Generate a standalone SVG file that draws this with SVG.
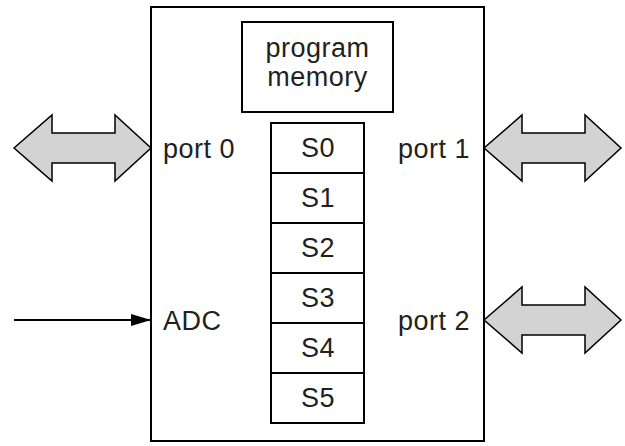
<svg xmlns="http://www.w3.org/2000/svg" width="625" height="446" viewBox="0 0 625 446">
<defs>
<style>
.box{fill:#fff;stroke:#000;stroke-width:2}
.t{font-family:"Liberation Sans",Arial,sans-serif;font-size:27px;fill:#231f20;letter-spacing:0.5px}
.c{text-anchor:middle}
.dbl{fill:#d3d3d3;stroke:#000;stroke-width:1.5;stroke-linejoin:miter}
.ln{stroke:#000;stroke-width:2;fill:none}
</style>
<marker id="ah" markerWidth="20" markerHeight="12" refX="20" refY="6" orient="auto" markerUnits="userSpaceOnUse">
<path d="M0,0 L20,6 L0,12 Z" fill="#000"/>
</marker>
<path id="dblarrow" d="M0,0 L38,-33 L38,-15 L101,-15 L101,-33 L137,0 L101,33 L101,15 L38,15 L38,33 Z"/>
</defs>
<g id="cpu">
<rect class="box" x="151" y="7" width="333" height="434"/>
<text class="t" x="163" y="158">port 0</text>
<text class="t" x="398" y="158">port 1</text>
<text class="t" x="163" y="330">ADC</text>
<text class="t" x="398" y="330">port 2</text>
</g>
<g id="program-memory">
<rect class="box" x="242" y="22" width="151" height="90"/>
<text class="t c" x="317.5" y="57">program</text>
<text class="t c" x="317.5" y="86">memory</text>
</g>
<g id="S0"><rect class="box" x="271" y="123" width="93" height="50"/><text class="t c" x="318" y="157">S0</text></g>
<g id="S1"><rect class="box" x="271" y="173" width="93" height="50"/><text class="t c" x="318" y="207">S1</text></g>
<g id="S2"><rect class="box" x="271" y="223" width="93" height="50"/><text class="t c" x="318" y="257">S2</text></g>
<g id="S3"><rect class="box" x="271" y="273" width="93" height="50"/><text class="t c" x="318" y="307">S3</text></g>
<g id="S4"><rect class="box" x="271" y="323" width="93" height="50"/><text class="t c" x="318" y="357">S4</text></g>
<g id="S5"><rect class="box" x="271" y="373" width="93" height="50"/><text class="t c" x="318" y="407">S5</text></g>
<g id="connectors">
<use href="#dblarrow" class="dbl" x="14" y="148"/>
<use href="#dblarrow" class="dbl" x="484" y="148"/>
<use href="#dblarrow" class="dbl" x="484" y="320"/>
<line class="ln" x1="14" y1="320" x2="151" y2="320" marker-end="url(#ah)"/>
</g>
</svg>
